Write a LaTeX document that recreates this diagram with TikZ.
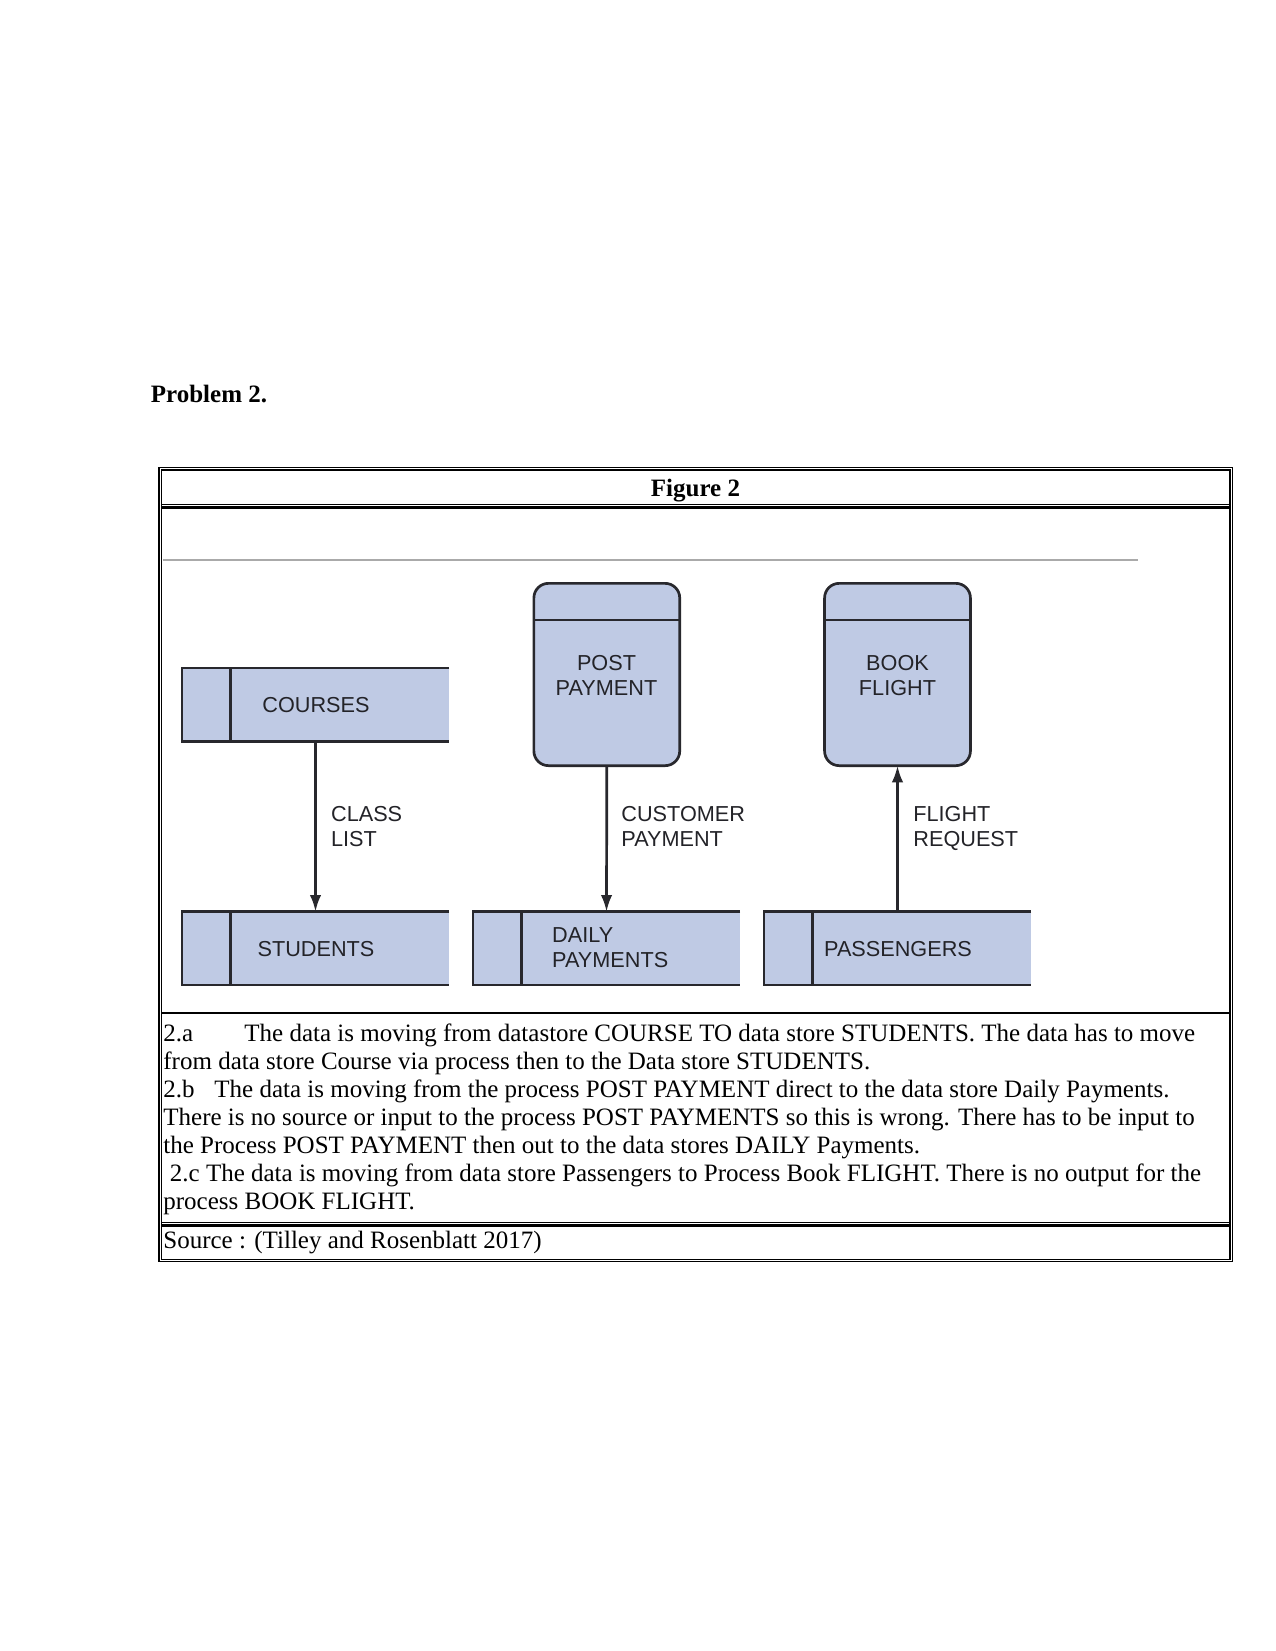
\documentclass[tikz,border=0pt]{standalone}
\usepackage{fontspec}
\setmainfont{Liberation Serif}
\newfontfamily\dfdfont{Liberation Sans}
\usetikzlibrary{arrows.meta}
\definecolor{boxfill}{RGB}{191,202,228}
\definecolor{boxline}{RGB}{40,40,45}
\definecolor{dfdtext}{RGB}{35,35,40}
\definecolor{imgline}{RGB}{170,170,170}
\tikzset{
  store/.style={rectangle, fill=boxfill, draw=none, minimum width=128.2pt, minimum height=35.2pt, inner sep=0pt, outer sep=0pt},
  proc/.style={rectangle, rounded corners=7pt, fill=boxfill, draw=boxline, line width=1.3pt, minimum width=70pt, minimum height=87.5pt, inner sep=0pt, outer sep=0pt},
  dfdlbl/.style={font=\dfdfont\fontsize{10.4pt}{12pt}\selectfont, text=dfdtext, inner sep=0pt},
  bodytxt/.style={font=\fontsize{12pt}{13.5pt}\selectfont, inner sep=0pt, anchor=base west},
  flow/.style={draw=boxline, line width=1.3pt, -{Latex[length=8pt,width=5.5pt]}},
  storeline/.style={draw=boxline, line width=1.3pt},
  thinrule/.style={line width=0.5pt},
  thickrule/.style={line width=1.4pt}
}
\begin{document}
\begin{tikzpicture}[x=0.48pt,y=-0.48pt]
\useasboundingbox (0,0) rectangle (1275,1651);
\fill[white] (0,0) rectangle (1275,1651);

% heading
\node[bodytxt, font=\bfseries\fontsize{12pt}{13.5pt}\selectfont] (prob) at (150.5,402.3) {Problem 2.};

% table frame
\draw[line width=0.8pt] (159,467.5) rectangle (1232.5,1261.5);
\draw[thinrule] (161.8,470) rectangle (1230,1259.5);
\draw[thinrule] (161.8,504.5) -- (1230,504.5);
\draw[thickrule] (161.8,507.5) -- (1230,507.5);
\draw[thickrule] (161.8,1013) -- (1230,1013);
\draw[thinrule] (161.8,1222.5) -- (1230,1222.5);
\draw[thickrule] (161.8,1225.5) -- (1230,1225.5);

\node[inner sep=0pt, anchor=base, font=\bfseries\fontsize{12pt}{13.5pt}\selectfont] (fig) at (695.5,496) {Figure 2};

% image top rule
\draw[imgline, line width=1pt] (163,560) -- (1138,560);

% data stores
\node[store] (courses) at (315.5,704.75) {};
\node[store] (students) at (315.5,948.35) {};
\node[store] (daily) at (606.5,948.35) {};
\node[store] (passengers) at (897.5,948.35) {};
\foreach \s in {courses,students,daily,passengers}{
  \draw[storeline] (\s.north east) -- (\s.north west) -- (\s.south west) -- (\s.south east);
  \draw[storeline] ([xshift=23.4pt]\s.north west) -- ([xshift=23.4pt]\s.south west);
}

% processes
\node[proc] (post) at (606.8,674.5) {};
\node[proc] (book) at (897.5,674.5) {};
\foreach \p in {post,book}{
  \draw[storeline] ([yshift=-17.6pt]\p.north west) -- ([yshift=-17.6pt]\p.north east);
}

% labels inside shapes
\node[dfdlbl, anchor=base] (lcourses) at (316,712.7) {COURSES};
\node[dfdlbl, anchor=base] (lstudents) at (316,956) {STUDENTS};
\node[dfdlbl, anchor=base west] (ldaily) at (551.8,942.7) {\begin{tabular}[t]{@{}l@{}}DAILY\\PAYMENTS\end{tabular}};
\node[dfdlbl, anchor=base] (lpass) at (898,956) {PASSENGERS};
\node[dfdlbl, anchor=base] (lpost) at (606.5,670) {\begin{tabular}[t]{@{}c@{}}POST\\PAYMENT\end{tabular}};
\node[dfdlbl, anchor=base] (lbook) at (897.5,670) {\begin{tabular}[t]{@{}c@{}}BOOK\\FLIGHT\end{tabular}};

% flows
\draw[flow] (courses.south) -- (students.north);
\draw[flow] (post.south) -- (daily.north);
\draw[flow] (passengers.north) -- (book.south);

\node[dfdlbl, anchor=base west] (lclass) at (330.7,821.7) {\begin{tabular}[t]{@{}l@{}}CLASS\\LIST\end{tabular}};
\node[dfdlbl, anchor=base west] (lcust) at (621,821.7) {\begin{tabular}[t]{@{}l@{}}CUSTOMER\\PAYMENT\end{tabular}};
\node[dfdlbl, anchor=base west] (lflight) at (913,821.7) {\begin{tabular}[t]{@{}l@{}}FLIGHT\\REQUEST\end{tabular}};

% body text
\node[bodytxt] (t1) at (163,1041.7) {\makebox[38.9pt][l]{2.a}The data is moving from datastore COURSE TO data store STUDENTS. The data has to move};
\node[bodytxt] (t2) at (163,1069.5) {from data store Course via process then to the Data store STUDENTS.};
\node[bodytxt] (t3) at (163,1097) {\makebox[24.5pt][l]{2.b}The data is moving from the process POST PAYMENT direct to the data store Daily Payments.};
\node[bodytxt] (t4) at (163,1125) {There is no source or input to the process POST PAYMENTS so this is wrong. There has to be input to};
\node[bodytxt] (t5) at (163,1153) {the Process POST PAYMENT then out to the data stores DAILY Payments.};
\node[bodytxt] (t6) at (169.5,1181.5) {2.c The data is moving from data store Passengers to Process Book FLIGHT. There is no output for the};
\node[bodytxt] (t7) at (163,1209.5) {process BOOK FLIGHT.};
\node[bodytxt] (src) at (163,1248) {Source : (Tilley and Rosenblatt 2017)};
\end{tikzpicture}
\end{document}
